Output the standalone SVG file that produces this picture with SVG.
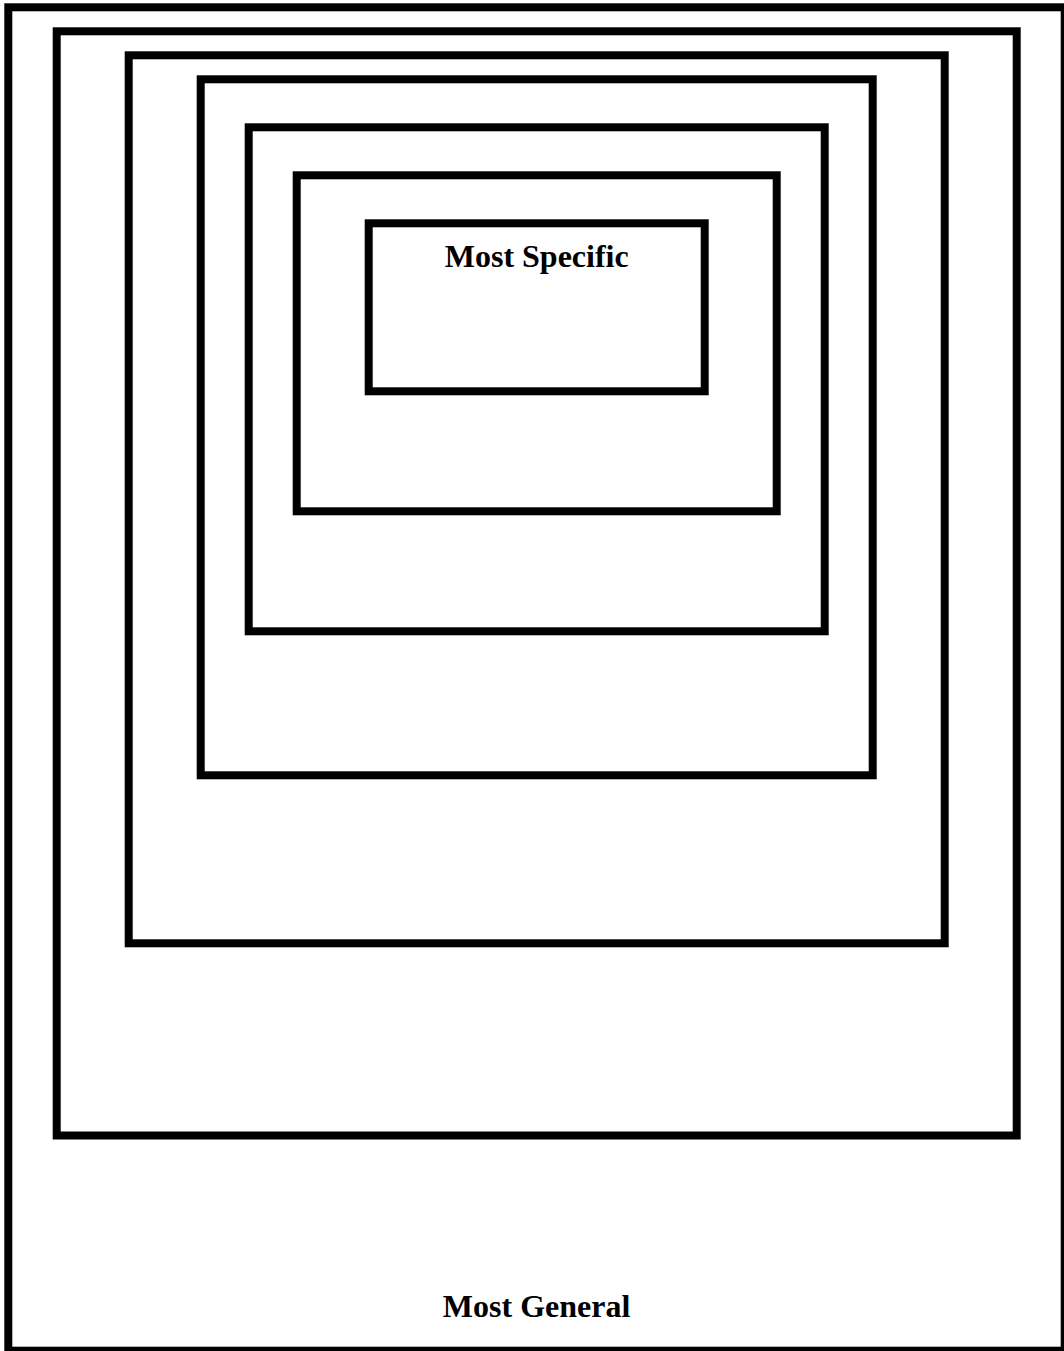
<svg xmlns="http://www.w3.org/2000/svg" width="1064" height="1351" viewBox="0 0 1064 1351">
<style>
.box{fill:none;stroke:#000;stroke-width:8}
.lbl{font-family:"Liberation Serif","Times New Roman",serif;font-weight:bold;font-size:32px;text-anchor:middle;fill:#000}
</style>
<rect width="1064" height="1351" fill="#fff"/>
<g id="most-general">
<rect class="box" x="8.3" y="7.3" width="1056.4" height="1343.4"/>
<text class="lbl" x="536.6" y="1317">Most General</text>
</g>
<g id="level-2"><rect class="box" x="56.7" y="31.3" width="960" height="1104.2"/></g>
<g id="level-3"><rect class="box" x="128.7" y="55.3" width="816" height="888"/></g>
<g id="level-4"><rect class="box" x="200.7" y="79.3" width="672" height="696"/></g>
<g id="level-5"><rect class="box" x="248.7" y="127.3" width="576" height="504"/></g>
<g id="level-6"><rect class="box" x="296.7" y="175.3" width="480" height="336"/></g>
<g id="most-specific">
<rect class="box" x="368.7" y="223.3" width="336" height="168"/>
<text class="lbl" x="536.7" y="267">Most Specific</text>
</g>
<g id="connectors"></g>
</svg>
